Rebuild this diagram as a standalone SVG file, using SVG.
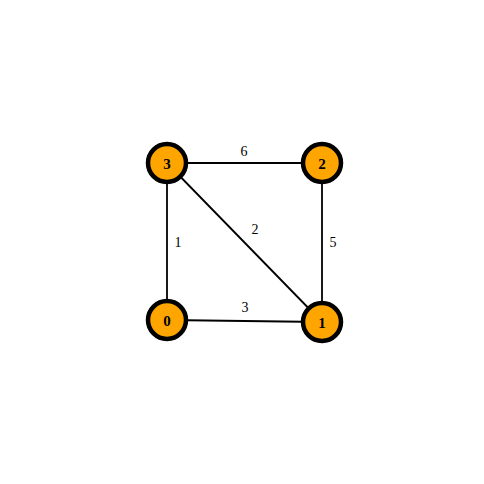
<svg xmlns="http://www.w3.org/2000/svg" width="484" height="484" viewBox="0 0 484 484">
<style>
.edge{stroke:#000;stroke-width:1.8;fill:none}
.node circle{fill:#FFA500;stroke:#000;stroke-width:4.5}
.node text{font-family:"Liberation Serif",serif;font-weight:bold;font-size:15px;text-anchor:middle;dominant-baseline:central;fill:#000}
.lbl{font-family:"Liberation Serif",serif;font-size:14px;text-anchor:middle;fill:#000}
</style>
<rect width="484" height="484" fill="#fff"/>
<g id="edges">
<line class="edge" x1="167" y1="163" x2="322" y2="163"/>
<line class="edge" x1="167" y1="163" x2="167" y2="320"/>
<line class="edge" x1="167" y1="163" x2="322" y2="322"/>
<line class="edge" x1="322" y1="163" x2="322" y2="322"/>
<line class="edge" x1="167" y1="320" x2="322" y2="322"/>
<text class="lbl" x="244" y="156">6</text>
<text class="lbl" x="178" y="247">1</text>
<text class="lbl" x="255" y="234">2</text>
<text class="lbl" x="333" y="247">5</text>
<text class="lbl" x="245" y="312">3</text>
</g>
<g id="node3" class="node"><circle cx="167" cy="163" r="19"/><text x="167" y="164">3</text></g>
<g id="node2" class="node"><circle cx="322" cy="163" r="19"/><text x="322" y="164">2</text></g>
<g id="node0" class="node"><circle cx="167" cy="320" r="19"/><text x="167" y="321">0</text></g>
<g id="node1" class="node"><circle cx="322" cy="322" r="19"/><text x="322" y="323">1</text></g>
</svg>
